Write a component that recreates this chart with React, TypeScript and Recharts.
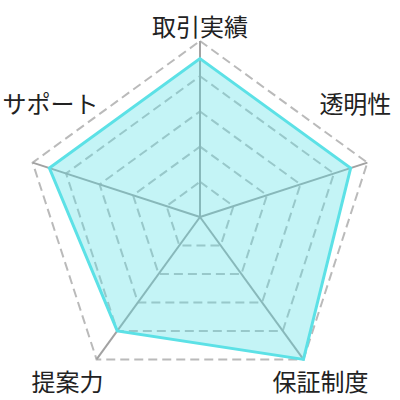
import React from 'react';
import { RadarChart, Radar, PolarGrid, PolarAngleAxis, PolarRadiusAxis } from 'recharts';

const categories = ['取引実績', '透明性', '保証制度', '提案力', 'サポート'];
const scores = [4.5, 4.5, 5, 4, 4.5];
const radiusDomain = [0, 5];

const data = categories.map((c, i) => ({ subject: c, score: scores[i] }));

const CX = 200;
const CY = 217;
const R = 176;

// label offsets relative to each outer vertex (layout only)
const labelOffsets = [
  [0, -16],
  [-12, -60],
  [17, 21],
  [-29, 21],
  [18, -60],
];

const RAD = Math.PI / 180;

const Tick = (props: any) => {
  const { payload, index } = props;
  const angle = payload.coordinate;
  const vx = CX + Math.cos(-angle * RAD) * R;
  const vy = CY + Math.sin(-angle * RAD) * R;
  const off = labelOffsets[index] || [0, 0];
  return (
    <text
      x={vx + off[0]}
      y={vy + off[1]}
      textAnchor="middle"
      dominantBaseline="central"
      fontSize={24}
      fontFamily="'Noto Sans CJK JP', 'Noto Sans', sans-serif"
      fill="#222"
    >
      {payload.value}
    </text>
  );
};

export default function App() {
  return (
    <div style={{ position: 'absolute', left: 0, top: 0, width: 400, height: 400, background: '#fff' }}>
      <RadarChart width={400} height={400} data={data} cx={CX} cy={CY} outerRadius={R} margin={{ top: 0, right: 0, bottom: 0, left: 0 }}>
        <PolarGrid gridType="polygon" radialLines={false} stroke="#bababa" strokeWidth={2} strokeDasharray="9 5" />
        <PolarGrid gridType="polygon" polarRadius={[]} stroke="#a2a2a2" strokeWidth={2} />
        <PolarAngleAxis dataKey="subject" tick={<Tick />} tickLine={false} axisLine={false} />
        <PolarRadiusAxis domain={radiusDomain} tickCount={6} tick={false} axisLine={false} />
        <Radar
          dataKey="score"
          stroke="#5ce1e6"
          strokeWidth={3}
          fill="#5ce1e6"
          fillOpacity={0.36}
          isAnimationActive={false}
        />
      </RadarChart>
    </div>
  );
}
